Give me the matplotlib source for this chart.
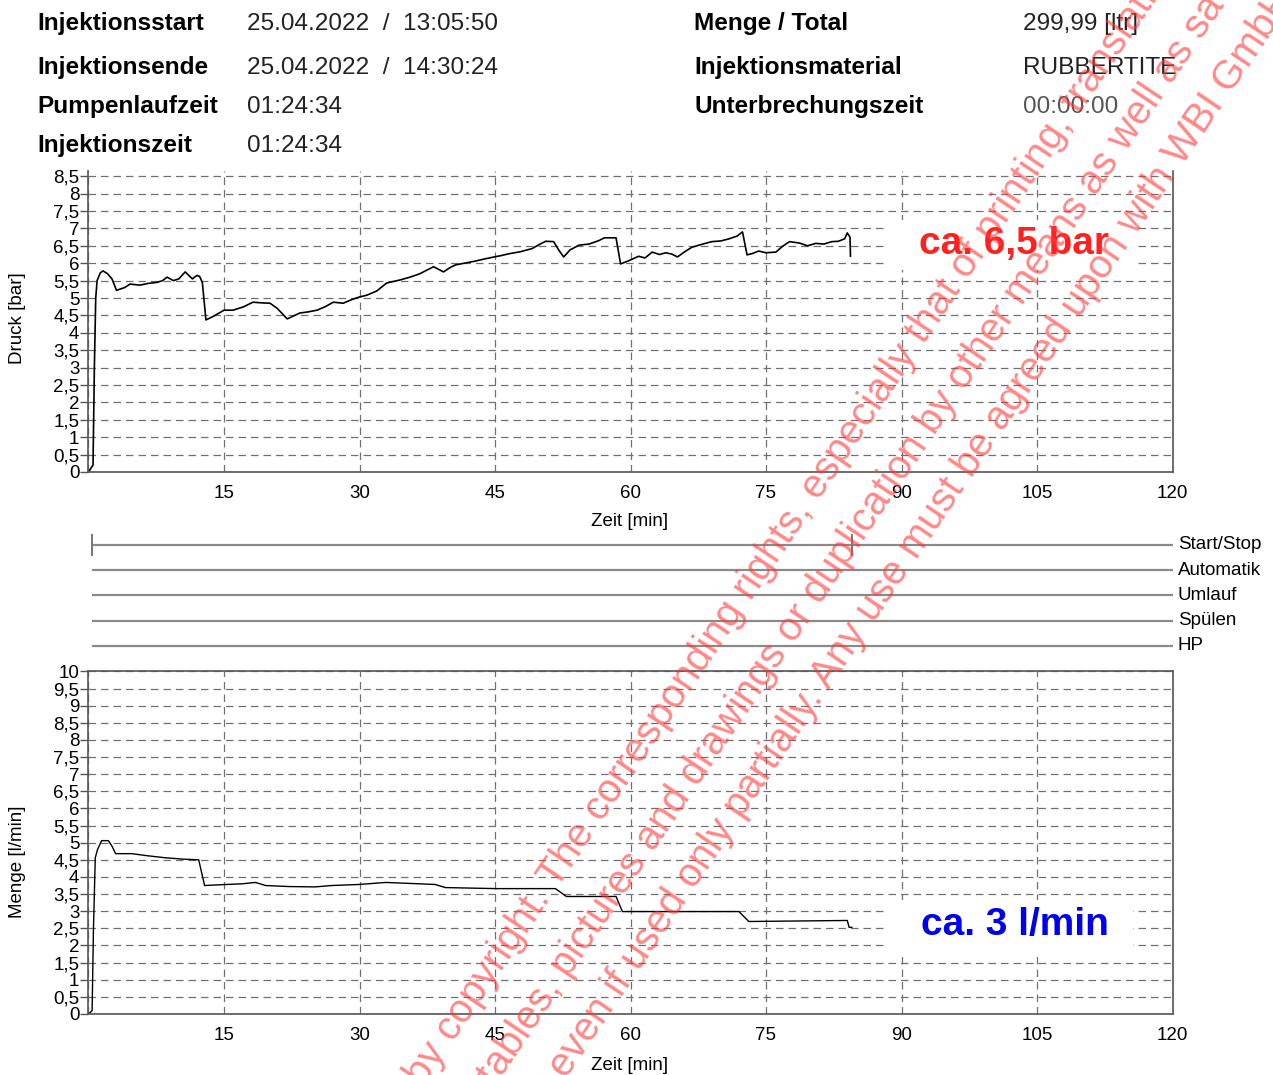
import numpy as np
import matplotlib.pyplot as plt
from matplotlib.patches import Rectangle
from matplotlib.ticker import MultipleLocator, FuncFormatter

# --- report header ---
head_left_labels = ["Injektionsstart", "Injektionsende", "Pumpenlaufzeit", "Injektionszeit"]
head_left_values = ["25.04.2022  /  13:05:50", "25.04.2022  /  14:30:24", "01:24:34", "01:24:34"]
head_right_labels = ["Menge / Total", "Injektionsmaterial", "Unterbrechungszeit"]
head_right_values = ["299,99 [ltr]", "RUBBERTITE", "00:00:00"]

# --- pressure trace (min, bar) ---
t_press = [0, 0.5, 0.65, 0.8, 0.95, 1.3, 1.6, 2.1, 2.6, 3.1,
           4.0, 4.6, 5.7, 6.6, 7.6, 8.2, 8.7, 9.4, 10.0, 10.7,
           11.5, 12.0, 12.3, 12.6, 13.0, 13.8, 15.0, 16.0, 17.2, 18.2,
           19.2, 20.1, 20.9, 22.0, 23.4, 24.3, 25.3, 26.2, 27.1, 28.2,
           29.1, 30.0, 30.8, 31.9, 33.0, 34.5, 35.6, 36.7, 38.2, 39.3,
           40.0, 40.6, 41.6, 42.8, 43.8, 44.9, 45.7, 46.5, 47.8, 49.1,
           50.0, 50.6, 51.5, 52.0, 52.6, 53.3, 54.3, 55.4, 56.5, 57.1,
           58.4, 58.9, 59.8, 60.9, 61.6, 62.4, 63.2, 63.9, 64.6, 65.2,
           66.0, 66.8, 68.0, 69.0, 70.0, 70.9, 71.8, 72.4, 72.9, 73.5,
           74.2, 75.0, 76.1, 76.8, 77.6, 78.7, 79.6, 80.5, 81.4, 82.3,
           83.0, 83.7, 84.0, 84.3, 84.35]
pressure = [0, 0.2, 3.0, 5.0, 5.5, 5.72, 5.78, 5.7, 5.55, 5.22,
            5.3, 5.4, 5.37, 5.42, 5.45, 5.5, 5.6, 5.5, 5.55, 5.75,
            5.55, 5.65, 5.62, 5.45, 4.37, 4.47, 4.65, 4.65, 4.75, 4.88,
            4.86, 4.85, 4.7, 4.4, 4.57, 4.6, 4.65, 4.75, 4.88, 4.85,
            4.95, 5.03, 5.08, 5.2, 5.43, 5.52, 5.6, 5.7, 5.9, 5.75,
            5.87, 5.95, 6.0, 6.06, 6.12, 6.18, 6.22, 6.27, 6.33, 6.42,
            6.55, 6.63, 6.62, 6.4, 6.18, 6.38, 6.52, 6.55, 6.65, 6.73,
            6.73, 5.98, 6.07, 6.2, 6.15, 6.32, 6.25, 6.3, 6.26, 6.18,
            6.33, 6.46, 6.55, 6.62, 6.64, 6.7, 6.78, 6.9, 6.24, 6.28,
            6.35, 6.3, 6.32, 6.48, 6.62, 6.58, 6.5, 6.57, 6.55, 6.62,
            6.63, 6.7, 6.87, 6.75, 6.2]

# --- flow trace (min, l/min) ---
t_flow = [0, 0.4, 0.55, 0.75, 1.0, 1.45, 2.2, 2.6, 3.0, 4.8,
          6.5, 8.5, 10.5, 12.2, 12.85, 15.2, 17.0, 18.5, 19.6, 22.2,
          25.1, 26.9, 29.9, 32.9, 36.6, 38.4, 39.5, 45.1, 51.7, 52.9,
          58.4, 59.1, 72.0, 73.1, 84.0, 84.2, 84.5]
flow = [0, 0.1, 2.5, 4.56, 4.8, 5.06, 5.06, 4.9, 4.68, 4.68,
        4.62, 4.56, 4.52, 4.5, 3.75, 3.78, 3.8, 3.84, 3.75, 3.72,
        3.71, 3.75, 3.78, 3.84, 3.8, 3.78, 3.69, 3.66, 3.66, 3.43,
        3.43, 2.99, 2.99, 2.7, 2.73, 2.53, 2.53]

# --- event channels ---
event_names = ["Start/Stop", "Automatik", "Umlauf", "Spülen", "HP"]
event_begin = 0.42
start_stop_marks = [0.42, 84.57]

note_press = "ca. 6,5 bar"
note_flow = "ca. 3 l/min"

wm_lines = [
    "by copyright. The corresponding rights, especially that of printing, translation, reprinting, the use of",
    "illustrations, tables, pictures and drawings or duplication by other means as well as saving in data processing systems",
    "even if used only partially. Any use must be agreed upon with WBI GmbH.",
]

W, H = 1273, 1075
plt.rcParams['font.family'] = ['Liberation Sans', 'DejaVu Sans']
fig = plt.figure(figsize=(W / 100, H / 100), dpi=100)


def fx(px):
    return px / W


def fy(py):
    return 1 - py / H


def comma(v, pos):
    return ('%g' % v).replace('.', ',')


def minutes(v, pos):
    return '' if v == 0 else '%d' % v


def style_chart(ax, ymax):
    ax.set_xlim(0, 120)
    ax.set_ylim(0, ymax)
    ax.xaxis.set_major_locator(MultipleLocator(15))
    ax.xaxis.set_major_formatter(FuncFormatter(minutes))
    ax.yaxis.set_major_locator(MultipleLocator(0.5))
    ax.yaxis.set_major_formatter(FuncFormatter(comma))
    ax.grid(True, linestyle=(0, (6, 4)), color='#707070', linewidth=0.9)
    ax.set_axisbelow(True)
    ax.tick_params(axis='y', direction='out', length=6, width=1, pad=0.5,
                   labelsize=13.5, color='#555555')
    ax.tick_params(axis='x', length=0, pad=9, labelsize=13.5)
    for sp in ax.spines.values():
        sp.set_color('#555555')
        sp.set_linewidth(1.2)


# header block
rows_y = [30, 74, 113, 152]
for i, (lab, val) in enumerate(zip(head_left_labels, head_left_values)):
    fig.text(fx(37), fy(rows_y[i]), lab, fontsize=17.6, fontweight='bold', va='baseline')
    fig.text(fx(247), fy(rows_y[i]), val, fontsize=17.6, va='baseline', color='#222222')
for i, (lab, val) in enumerate(zip(head_right_labels, head_right_values)):
    fig.text(fx(694), fy(rows_y[i]), lab, fontsize=17.6, fontweight='bold', va='baseline')
    fig.text(fx(1023), fy(rows_y[i]), val, fontsize=17.6, va='baseline',
             color='#555555' if val == "00:00:00" else '#222222')

# pressure chart
ax_p = fig.add_axes([fx(88.5), fy(472), fx(1084), (472 - 171) / H])
style_chart(ax_p, 8.65)
ax_p.spines['top'].set_visible(False)
ax_p.plot(t_press, pressure, color='black', lw=1.2)
ax_p.add_patch(Rectangle((88.4, 5.8), 27.4, 1.44, facecolor='white', edgecolor='none', zorder=1.5))
ax_p.text(102.5, 6.55, note_press, color='#ff2020', fontsize=28, fontweight='bold',
          ha='center', va='center', zorder=3)

# event channels
ax_e = fig.add_axes([fx(88.5), fy(658.3), fx(1084), (658.3 - 532.4) / H])
ax_e.set_xlim(0, 120)
ax_e.set_ylim(-0.5, 4.5)
ax_e.axis('off')
for i, name in enumerate(event_names):
    level = len(event_names) - 1 - i
    ax_e.plot([event_begin, 120], [level, level], color='#8a8a8a', lw=1.6, solid_capstyle='butt')
    ax_e.text(120.6, level, name, fontsize=13.5, ha='left', va='center', clip_on=False)
ax_e.vlines(start_stop_marks, 4 - 0.42, 4 + 0.42, color='#777777', lw=1.4)

# flow chart
ax_q = fig.add_axes([fx(88.5), fy(1014), fx(1084), (1014 - 671.4) / H])
style_chart(ax_q, 10)
ax_q.plot(t_flow, flow, color='black', lw=1.0)
ax_q.add_patch(Rectangle((88.4, 1.78), 27.2, 1.55, facecolor='white', edgecolor='none', zorder=1.5))
ax_q.text(102.6, 2.6, note_flow, color='#0000ee', fontsize=28, fontweight='bold',
          ha='center', va='center', zorder=3)

# axis titles
fig.text(fx(18), fy(318), "Druck [bar]", rotation=90, ha='center', va='center', fontsize=13.5)
fig.text(fx(630), fy(521), "Zeit [min]", ha='center', va='center', fontsize=13.5)
fig.text(fx(18), fy(862), "Menge [l/min]", rotation=90, ha='center', va='center', fontsize=13.5)
fig.text(fx(630), fy(1065), "Zeit [min]", ha='center', va='center', fontsize=13.5)

# diagonal copyright stamp
ang = np.deg2rad(56)
wm_anchor = [(-665, 948), (-848, 1008), (-578, 1062)]
for line, (s, d) in zip(wm_lines, wm_anchor):
    px = s * np.cos(ang) + d * np.sin(ang)
    py = -s * np.sin(ang) + d * np.cos(ang)
    fig.text(fx(px), fy(py), line, fontsize=29, color=(1.0, 0.22, 0.22), alpha=0.6,
             rotation=56, rotation_mode='anchor', ha='left', va='center', zorder=10)

fig.savefig('out.png', dpi=100)
